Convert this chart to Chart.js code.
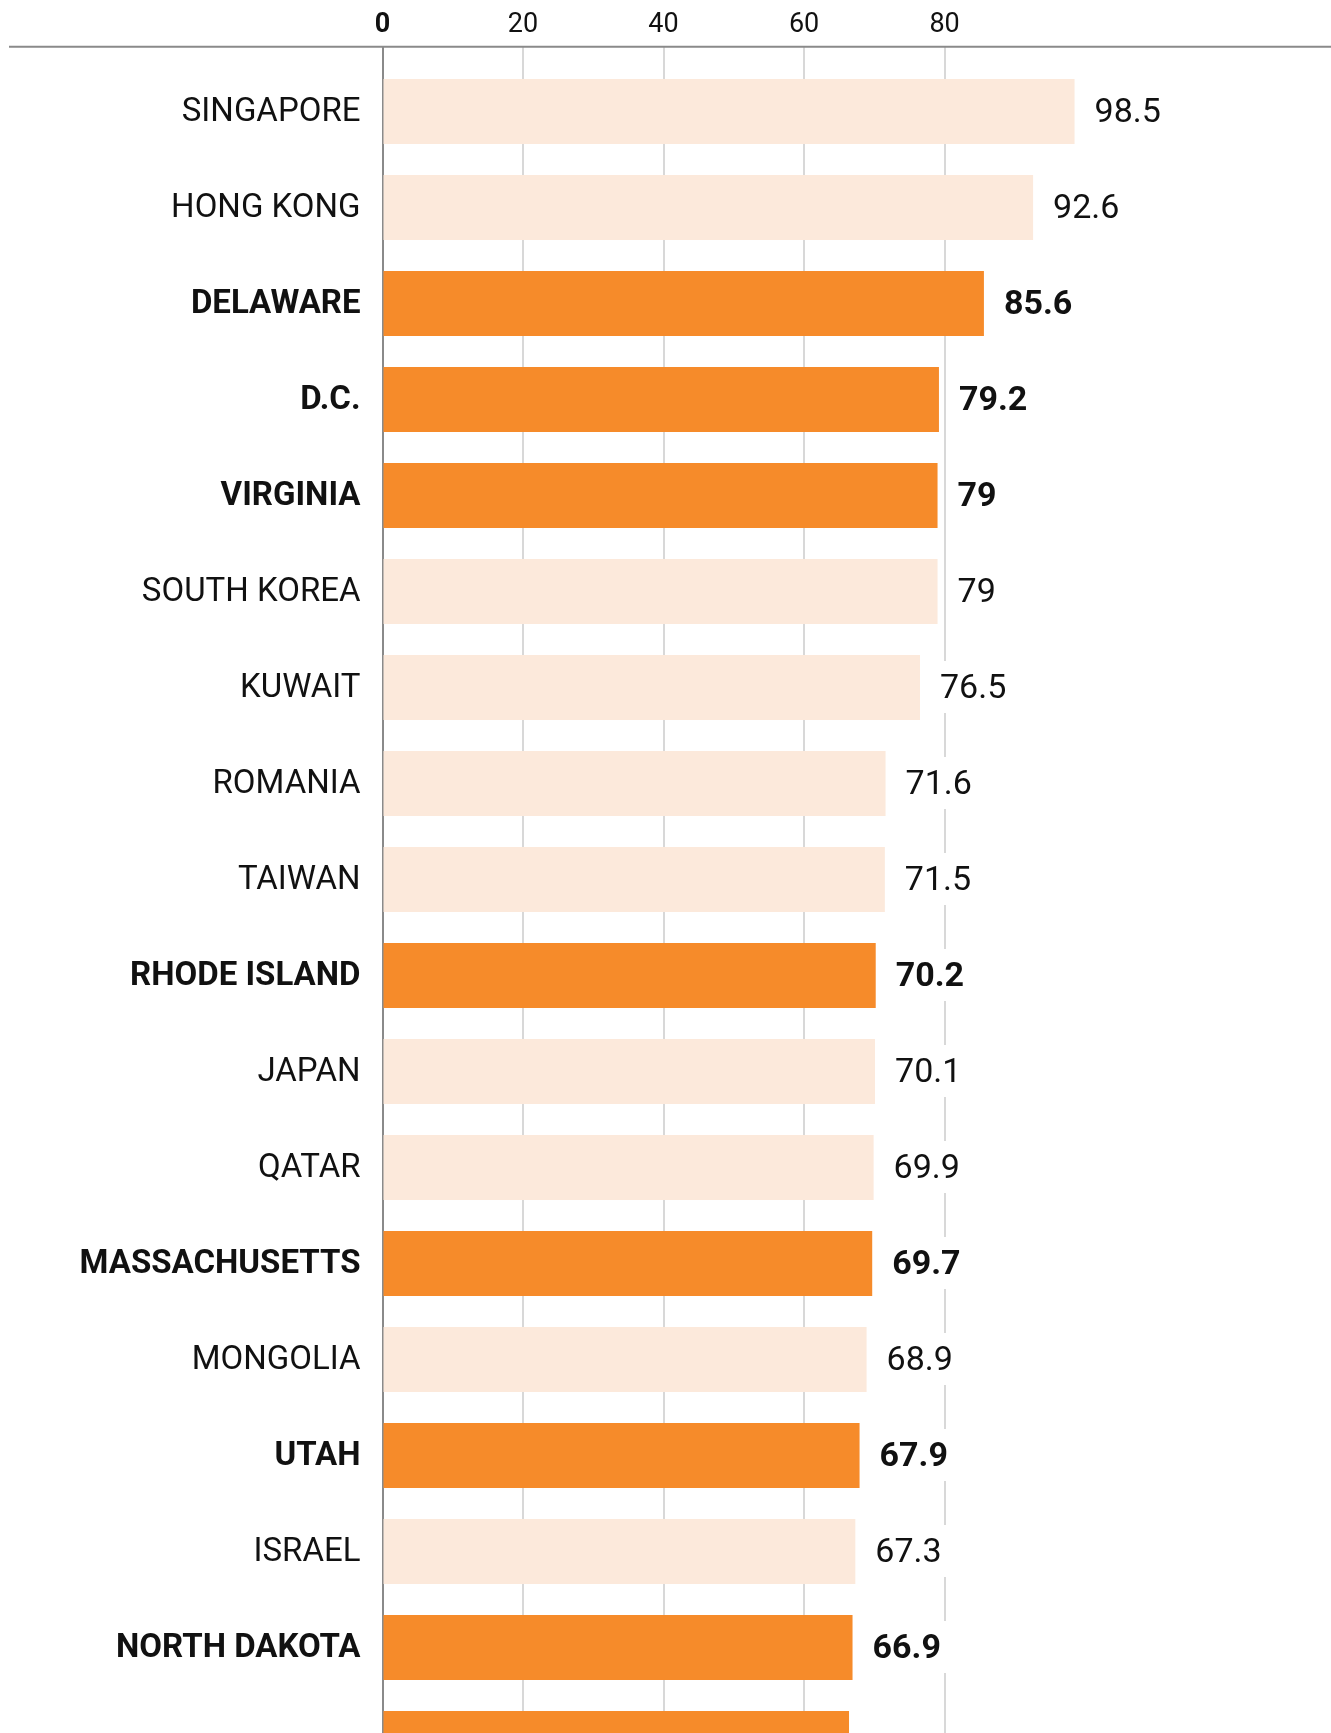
<!DOCTYPE html>
<html>
<head>
<meta charset="utf-8">
<script src="https://cdn.jsdelivr.net/npm/chart.js@4/dist/chart.umd.min.js"></script>
<style>
  html, body { margin: 0; padding: 0; background: #fff; overflow: hidden; }
  #frame { position: relative; width: 1331px; height: 1733px; overflow: hidden; }
  #barChart { display: block; position: absolute; left: 0; top: 0; }
</style>
</head>
<body>
<div id="frame">
  <canvas id="barChart" width="1331" height="1792" style="width:1331px;height:1792px"></canvas>
</div>
<script>
// ============================================================
// DATA
// ============================================================
const categories = [
  'SINGAPORE', 'HONG KONG', 'DELAWARE', 'D.C.', 'VIRGINIA', 'SOUTH KOREA',
  'KUWAIT', 'ROMANIA', 'TAIWAN', 'RHODE ISLAND', 'JAPAN', 'QATAR',
  'MASSACHUSETTS', 'MONGOLIA', 'UTAH', 'ISRAEL', 'NORTH DAKOTA', ''
];
const values = [
  98.5, 92.6, 85.6, 79.2, 79, 79,
  76.5, 71.6, 71.5, 70.2, 70.1, 69.9,
  69.7, 68.9, 67.9, 67.3, 66.9, 66.4
];
// US states / D.C. are highlighted (orange, bold)
const isState = [
  false, false, true, true, true, false,
  false, false, false, true, false, false,
  true, false, true, false, true, true
];
const xTicks = [0, 20, 40, 60, 80];
const xMax = 135;

const ORANGE = '#f68b2a';
const PEACH  = '#fce9db';
const INK    = '#111111';
const FONT   = 'Roboto';

// ============================================================
// PLUGINS
// ============================================================
// horizontal rule under the tick labels
const topRule = {
  id: 'topRule',
  afterDraw(chart) {
    const ctx = chart.ctx;
    ctx.save();
    ctx.strokeStyle = '#8a8a8a';
    ctx.lineWidth = 2;
    ctx.beginPath();
    ctx.moveTo(9, 46.7);
    ctx.lineTo(chart.width, 46.7);
    ctx.stroke();
    ctx.restore();
  }
};

// value labels with a white knock-out box (hides gridlines behind text)
const valueLabels = {
  id: 'valueLabels',
  afterDatasetsDraw(chart) {
    const ctx = chart.ctx;
    const meta = chart.getDatasetMeta(0);
    ctx.save();
    meta.data.forEach((bar, i) => {
      if (!categories[i]) return; // row cut off by the frame: bar only
      const text = String(values[i]);
      ctx.font = (isState[i] ? 'bold ' : '') + '34px ' + FONT;
      const w = ctx.measureText(text).width;
      const x = bar.x + 20;
      const y = bar.y + 1.5;
      ctx.fillStyle = '#fff';
      ctx.fillRect(x - 8, y - 28, w + 16, 52);
      ctx.fillStyle = INK;
      ctx.textBaseline = 'middle';
      ctx.textAlign = 'left';
      ctx.fillText(text, x, y);
    });
    ctx.restore();
  }
};

// ============================================================
// CHART
// ============================================================
const chart = new Chart(document.getElementById('barChart'), {
  type: 'bar',
  data: {
    labels: categories,
    datasets: [{
      data: values,
      backgroundColor: isState.map(s => s ? ORANGE : PEACH),
      borderWidth: 0,
      categoryPercentage: 1,
      barPercentage: 0.677,
    }]
  },
  options: {
    indexAxis: 'y',
    responsive: false,
    devicePixelRatio: 1,
    animation: false,
    events: [],
    layout: { padding: { top: 0, left: 0, right: 0, bottom: 0.5 } },
    plugins: {
      legend: { display: false },
      tooltip: { enabled: false }
    },
    scales: {
      x: {
        position: 'top',
        min: 0,
        max: xMax,
        afterBuildTicks: s => { s.ticks = xTicks.map(v => ({ value: v })); },
        afterFit: s => { s.height = 63.5; },
        grid: {
          color: c => c.tick && c.tick.value === 0 ? '#8a8a8a' : '#d8d8d8',
          lineWidth: 2,
          drawTicks: true,
          tickLength: 17,
        },
        border: { display: false },
        ticks: {
          color: INK,
          padding: 5,
          maxRotation: 0,
          font: c => ({ family: FONT, size: 27, weight: c.tick && c.tick.value === 0 ? 'bold' : 'normal' }),
        }
      },
      y: {
        z: 1,
        afterFit: s => { s.width = 382.5; s.paddingTop = 0; s.paddingBottom = 0; },
        grid: { display: false, drawTicks: false },
        border: { display: true, color: '#8a8a8a', width: 2 },
        ticks: {
          color: INK,
          padding: 22,
          labelOffset: 1.5,
          font: c => ({ family: FONT, size: 33, weight: isState[c.index] ? 'bold' : 'normal' }),
        }
      }
    }
  },
  plugins: [topRule, valueLabels]
});
</script>
</body>
</html>
